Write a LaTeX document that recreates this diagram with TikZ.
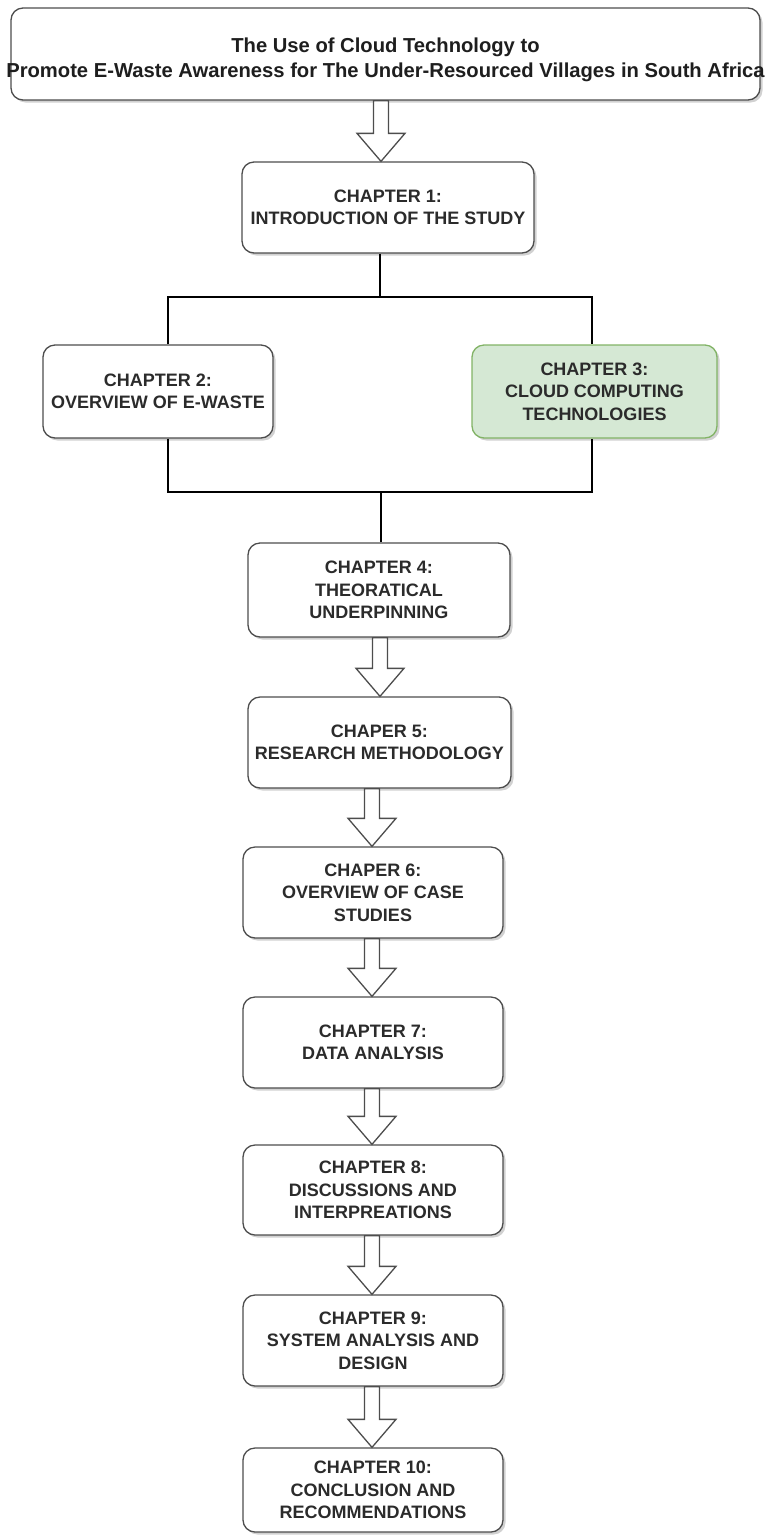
\documentclass[tikz,border=0pt]{standalone}
\usepackage{fontspec}
\setmainfont{Liberation Sans}
\usetikzlibrary{shadows,calc}
\definecolor{txt}{HTML}{2B2B2B}
\definecolor{ttl}{HTML}{1E1E1E}
\definecolor{bord}{HTML}{4D4D4D}
\definecolor{gfill}{HTML}{D5E8D4}
\definecolor{gbord}{HTML}{82B366}
\tikzset{
 box/.style={draw=bord, line width=1.3pt, rounded corners=12pt, fill=white, inner sep=0pt,
   align=center, text=txt, font=\bfseries\fontsize{18}{22.5}\selectfont,
   drop shadow={shadow xshift=2.5pt, shadow yshift=-2.5pt, opacity=0.3, fill=black!60}},
 greenbox/.style={box, fill=gfill, draw=gbord},
 titlebox/.style={box, text=ttl, font=\bfseries\fontsize{20.2}{25}\selectfont},
 conn/.style={line width=2.8pt, draw=black, line join=miter},
 barrowstyle/.style={draw=bord, line width=1.3pt, fill=white, line join=miter},
}
\newcommand{\blockarrow}[3]{%
 \draw[barrowstyle] let \p1=(#1.south), \p2=(#2.north) in
 (#3pt-7.5pt,\y1) -- (#3pt+7.5pt,\y1) -- (#3pt+7.5pt,\y2+28pt) -- (#3pt+24pt,\y2+28pt)
 -- (#3pt,\y2) -- (#3pt-24pt,\y2+28pt) -- (#3pt-7.5pt,\y2+28pt) -- cycle;}
\begin{document}
\begin{tikzpicture}[x=1pt,y=-1pt]
\useasboundingbox (0,0) rectangle (764,1535);
\node[titlebox, minimum width=749pt, minimum height=92pt] (title) at (385.5,54)
 {\rule{0pt}{27pt}The Use of Cloud Technology to\\\makebox[720pt][c]{Promote E-Waste Awareness for The Under-Resourced Villages in South Africa}};
\node[box, minimum width=292pt, minimum height=91pt] (ch1) at (388,207.5) {CHAPTER 1:\\INTRODUCTION OF THE STUDY};
\node[box, minimum width=230pt, minimum height=93pt] (ch2) at (158,391.5) {CHAPTER 2:\\OVERVIEW OF E-WASTE};
\node[greenbox, minimum width=245pt, minimum height=93pt] (ch3) at (594.5,391.5) {CHAPTER 3:\\CLOUD COMPUTING\\TECHNOLOGIES};
\node[box, minimum width=262pt, minimum height=94pt] (ch4) at (379,590) {CHAPTER 4:\\THEORATICAL\\UNDERPINNING};
\node[box, minimum width=263pt, minimum height=91pt] (ch5) at (379.5,742.5) {CHAPER 5:\\RESEARCH METHODOLOGY};
\node[box, minimum width=260pt, minimum height=91pt] (ch6) at (373,892.5) {CHAPER 6:\\OVERVIEW OF CASE\\STUDIES};
\node[box, minimum width=260pt, minimum height=91pt] (ch7) at (373,1042.5) {CHAPTER 7:\\DATA ANALYSIS};
\node[box, minimum width=260pt, minimum height=90pt] (ch8) at (373,1190) {CHAPTER 8:\\DISCUSSIONS AND\\INTERPREATIONS};
\node[box, minimum width=260pt, minimum height=91pt] (ch9) at (373,1340.5) {CHAPTER 9:\\SYSTEM ANALYSIS AND\\DESIGN};
\node[box, minimum width=260pt, minimum height=84pt] (ch10) at (373,1490) {CHAPTER 10:\\CONCLUSION AND\\RECOMMENDATIONS};
% tree connectors
\coordinate (ja) at (380,297);
\coordinate (jl) at (168,297);
\coordinate (jr) at (592,297);
\draw[conn] (ch1.south -| ja) -- (ja);
\draw[conn] (jl |- ch2.north) -- (jl) -- (jr) -- (jr |- ch3.north);
\coordinate (ka) at (381,492);
\coordinate (kl) at (168,492);
\coordinate (kr) at (592,492);
\draw[conn] (kl |- ch2.south) -- (kl) -- (kr) -- (kr |- ch3.south);
\draw[conn] (ka) -- (ka |- ch4.north);
% block arrows
\blockarrow{title}{ch1}{381}
\blockarrow{ch4}{ch5}{380}
\blockarrow{ch5}{ch6}{372}
\blockarrow{ch6}{ch7}{372}
\blockarrow{ch7}{ch8}{372}
\blockarrow{ch8}{ch9}{372}
\blockarrow{ch9}{ch10}{372}
\end{tikzpicture}
\end{document}
